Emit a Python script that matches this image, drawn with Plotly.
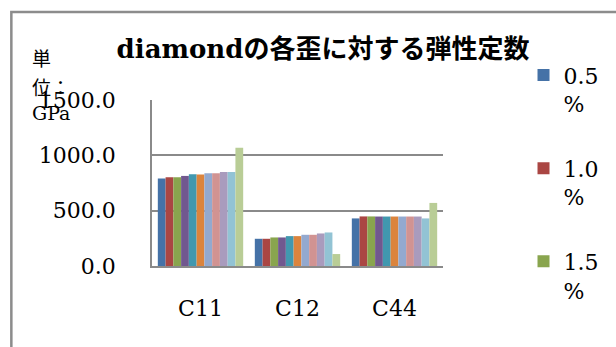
import plotly.graph_objects as go

# Elastic constants of diamond (GPa) at each applied strain
categories = ["C11", "C12", "C44"]
strains = ["0.5", "1.0", "1.5", "2.0", "2.5", "3.0", "3.5", "4.0", "4.5", "5.0", "5.5"]
c11 = [790, 802, 802, 814, 829, 826, 838, 838, 850, 850, 1069]
c12 = [246, 246, 258, 258, 270, 270, 282, 282, 294, 303, 108]
c44 = [430, 448, 448, 447, 447, 447, 447, 447, 447, 430, 570]
y_ticks = [0, 500, 1000, 1500]

colors = ["#4572A7", "#AA4643", "#89A54E", "#71588F", "#4198AF", "#DB843D",
          "#93A9CF", "#D19392", "#A99BBD", "#92C3D4", "#B9CD96"]

W, H = 616, 347
L, R, T, B = 152, 452, 99.5, 266  # plot area in pixels


def px_x(p):
    return (p - L) / (R - L)


def px_y(p):
    return (B - p) / (B - T)


SERIF = "DejaVu Serif, Noto Sans CJK JP, serif"

fig = go.Figure()
for i, s in enumerate(strains):
    fig.add_trace(go.Bar(
        x=categories,
        y=[c11[i], c12[i], c44[i]],
        name=f"{s}<br>%",
        marker=dict(color=colors[i], line=dict(width=0)),
        showlegend=i < 3,
        legendgroup=f"g{i}",
    ))

fig.update_layout(
    width=W, height=H,
    margin=dict(l=L, r=W - R, t=T, b=H - B, pad=0),
    paper_bgcolor="white", plot_bgcolor="white",
    barmode="group", bargap=0.12, bargroupgap=0,
    font=dict(family=SERIF, size=22, color="black"),
    title=dict(
        text="diamondの各歪に対する弾性定数",
        font=dict(family=SERIF, size=26, color="black", weight="bold"),
        x=323 / W, xref="container", xanchor="center",
        y=1 - 49 / H, yref="container", yanchor="middle",
    ),
    xaxis=dict(
        showline=True, linecolor="#8a8a8a", linewidth=1.5,
        showgrid=False, ticks="", ticklabelstandoff=22,
        tickfont=dict(size=22),
    ),
    yaxis=dict(
        range=[0, 1500], tickvals=y_ticks, tickformat=".1f",
        showline=True, linecolor="#8a8a8a", linewidth=1.5,
        showgrid=True, gridcolor="#8a8a8a", gridwidth=1.5,
        zeroline=False, ticks="", ticklabelstandoff=30,
        tickfont=dict(size=22),
    ),
    legend=dict(
        x=px_x(535), y=px_y(53.5), xanchor="left", yanchor="top",
        xref="paper", yref="paper",
        valign="top", tracegroupgap=33, maxheight=340,
        font=dict(family=SERIF, size=22, color="black"),
        bgcolor="rgba(0,0,0,0)",
    ),
)

# Axis unit label, wrapped one piece per line
for txt, yc in [("単", 58.5), ("位：", 87.5), ("GPa", 112.5)]:
    fig.add_annotation(
        text=txt, xref="paper", yref="paper",
        x=px_x(26), y=px_y(yc), xanchor="left", yanchor="middle",
        showarrow=False, font=dict(family=SERIF, size=19, color="black"),
    )

# Chart frame
fig.add_shape(
    type="rect", xref="paper", yref="paper",
    x0=px_x(7), x1=px_x(640), y0=px_y(370), y1=px_y(11.3),
    line=dict(color="#8c8c8c", width=2.5), fillcolor="rgba(0,0,0,0)",
    layer="below",
)

fig.write_html("out.html")
